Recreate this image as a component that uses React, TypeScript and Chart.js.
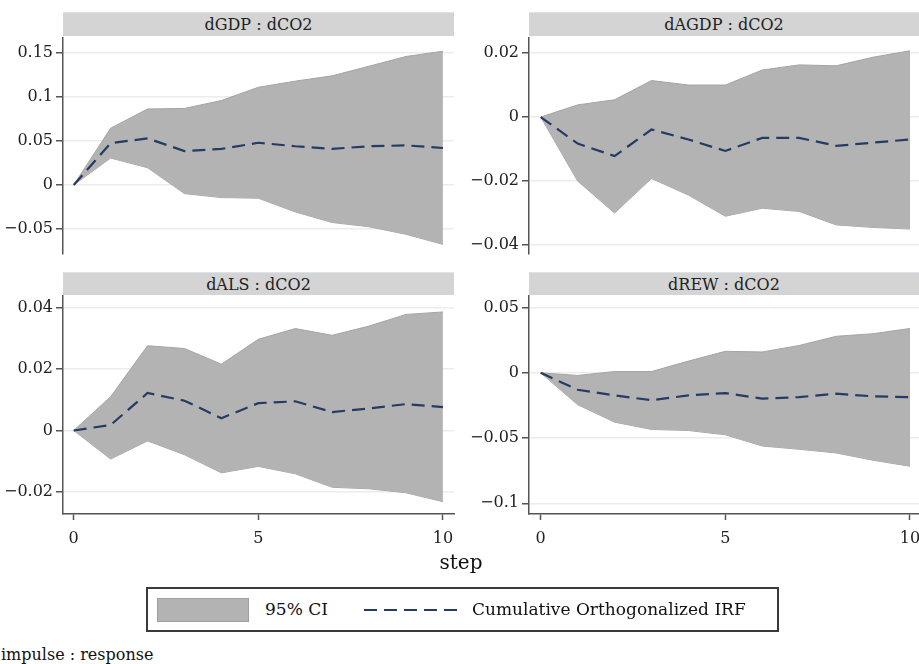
import React, { useEffect, useRef } from 'react';
import { Chart, registerables } from 'chart.js';

Chart.register(...registerables);

const FONT = "'DejaVu Serif', serif";

const steps = [0, 1, 2, 3, 4, 5, 6, 7, 8, 9, 10];
const xTicks = [0, 5, 10];

const gdpHi = [0, 0.0645, 0.0864, 0.087, 0.096, 0.111, 0.118, 0.124, 0.135, 0.146, 0.152];
const gdpLo = [0, 0.0306, 0.0196, -0.0098, -0.0143, -0.015, -0.0306, -0.0426, -0.0475, -0.056, -0.0675];
const gdpIrf = [0, 0.0475, 0.053, 0.0385, 0.041, 0.048, 0.044, 0.041, 0.044, 0.045, 0.042];
const gdpTicks = [-0.05, 0, 0.05, 0.1, 0.15];

const agdpHi = [0, 0.0038, 0.0054, 0.0114, 0.01, 0.01, 0.0147, 0.0163, 0.016, 0.0187, 0.0207];
const agdpLo = [0, -0.02, -0.03, -0.0192, -0.0244, -0.031, -0.0285, -0.0295, -0.0337, -0.0345, -0.035];
const agdpIrf = [0, -0.0083, -0.0122, -0.0039, -0.007, -0.0106, -0.0065, -0.0065, -0.009, -0.008, -0.007];
const agdpTicks = [-0.04, -0.02, 0, 0.02];

const alsHi = [0, 0.011, 0.0276, 0.0267, 0.0216, 0.0297, 0.0332, 0.031, 0.034, 0.0378, 0.0386];
const alsLo = [0, -0.0093, -0.0034, -0.0079, -0.0138, -0.0117, -0.0141, -0.0185, -0.019, -0.0203, -0.0232];
const alsIrf = [0, 0.0018, 0.0122, 0.0097, 0.004, 0.0089, 0.0095, 0.006, 0.0072, 0.0086, 0.0076];
const alsTicks = [-0.02, 0, 0.02, 0.04];

const rewHi = [0, -0.002, 0.001, 0.001, 0.009, 0.0165, 0.016, 0.021, 0.028, 0.03, 0.034];
const rewLo = [0, -0.0244, -0.0378, -0.0434, -0.0442, -0.0475, -0.0561, -0.0586, -0.0614, -0.067, -0.0716];
const rewIrf = [0, -0.013, -0.0173, -0.021, -0.0173, -0.0155, -0.0198, -0.0186, -0.016, -0.018, -0.0186];
const rewTicks = [-0.1, -0.05, 0, 0.05];

const BAND = '#b3b3b3';
const BAND_EDGE = '#a4a4a4';
const IRF_COLOR = '#263b63';
const AXIS = '#555555';
const GRID = '#ececec';

type PanelProps = {
  title: string;
  hi: number[];
  lo: number[];
  irf: number[];
  yTicks: number[];
  yMin: number;
  yMax: number;
  xMin: number;
  xMax: number;
  showX: boolean;
  left: number;
  top: number;
  width: number;
  height: number;
  padRight: number;
  padBottom: number;
  headerTop: number;
  headerHeight: number;
};

function fmt(v: number): string {
  const r = Math.round(v * 10000) / 10000;
  if (r < 0) return '\u2212' + String(Math.abs(r));
  return String(r);
}

function Panel(p: PanelProps) {
  const ref = useRef<HTMLCanvasElement | null>(null);
  useEffect(() => {
    if (!ref.current) return;
    const pts = (arr: number[]) => steps.map((s, i) => ({ x: s, y: arr[i] }));
    const chart = new Chart(ref.current, {
      type: 'line',
      data: {
        datasets: [
          {
            label: 'Cumulative Orthogonalized IRF',
            data: pts(p.irf),
            borderColor: IRF_COLOR,
            borderWidth: 2.2,
            borderDash: [13, 7],
            fill: false,
            pointRadius: 0,
            tension: 0,
          },
          {
            label: '95% CI upper',
            data: pts(p.hi),
            borderColor: BAND_EDGE,
            borderWidth: 1,
            backgroundColor: BAND,
            fill: '+1',
            pointRadius: 0,
            tension: 0,
          },
          {
            label: '95% CI lower',
            data: pts(p.lo),
            borderColor: BAND_EDGE,
            borderWidth: 1,
            backgroundColor: BAND,
            fill: false,
            pointRadius: 0,
            tension: 0,
          },
        ],
      },
      options: {
        animation: false,
        responsive: false,
        maintainAspectRatio: false,
        layout: { padding: { top: 6, right: p.padRight, bottom: p.padBottom, left: 0 } },
        plugins: { legend: { display: false }, tooltip: { enabled: false }, title: { display: false } },
        scales: {
          x: {
            type: 'linear',
            display: p.showX,
            min: p.xMin,
            max: p.xMax,
            afterBuildTicks: (scale: any) => {
              scale.ticks = xTicks.map((v) => ({ value: v }));
            },
            afterFit: (scale: any) => {
              if (p.showX) {
                scale.height = 40;
              }
              scale.paddingLeft = 0;
              scale.paddingRight = 0;
            },
            grid: {
              drawOnChartArea: false,
              drawTicks: true,
              tickLength: 6,
              tickColor: AXIS,
              tickWidth: 1.5,
            },
            border: { display: true, color: AXIS, width: 1.5 },
            ticks: {
              padding: 9,
              color: '#222',
              font: { family: FONT, size: 16 },
              maxRotation: 0,
              callback: (v: any) => String(v),
            },
          },
          y: {
            type: 'linear',
            min: p.yMin,
            max: p.yMax,
            afterBuildTicks: (scale: any) => {
              scale.ticks = p.yTicks.map((v) => ({ value: v }));
            },
            afterFit: (scale: any) => {
              scale.width = 63;
              scale.paddingTop = 0;
              scale.paddingBottom = 0;
            },
            grid: {
              color: GRID,
              lineWidth: 1.5,
              drawTicks: true,
              tickLength: 7,
              tickColor: AXIS,
              tickWidth: 1.5,
            },
            border: { display: true, color: AXIS, width: 1.5 },
            ticks: {
              padding: 3,
              color: '#222',
              font: { family: FONT, size: 16 },
              callback: (v: any) => fmt(Number(v)),
            },
          },
        },
      },
    });
    return () => chart.destroy();
  }, []);

  return (
    <>
      <div
        style={{
          position: 'absolute',
          left: p.left + 63,
          top: p.headerTop,
          width: p.width - 63 - p.padRight,
          height: p.headerHeight,
          background: '#d4d4d4',
          boxSizing: 'border-box',
          borderTop: '1px solid #dbe4ea',
          color: '#222',
          fontFamily: FONT,
          fontSize: 16,
          lineHeight: p.headerHeight + 'px',
          textAlign: 'center',
          whiteSpace: 'nowrap',
        }}
      >
        {p.title}
      </div>
      <canvas
        ref={ref}
        width={p.width}
        height={p.height}
        style={{ position: 'absolute', left: p.left, top: p.top, width: p.width, height: p.height }}
      />
    </>
  );
}

export default function App() {
  useEffect(() => {
    document.body.style.margin = '0';
  }, []);
  return (
    <div style={{ position: 'absolute', left: 0, top: 0, width: 919, height: 664, background: '#fff', overflow: 'hidden' }}>
      <Panel
        title="dGDP : dCO2"
        hi={gdpHi}
        lo={gdpLo}
        irf={gdpIrf}
        yTicks={gdpTicks}
        yMin={-0.0784}
        yMax={0.167}
        xMin={-0.29}
        xMax={10.3}
        showX={false}
        left={0}
        top={32}
        width={460}
        height={230}
        padRight={6}
        padBottom={8}
        headerTop={12}
        headerHeight={24}
      />
      <Panel
        title="dAGDP : dCO2"
        hi={agdpHi}
        lo={agdpLo}
        irf={agdpIrf}
        yTicks={agdpTicks}
        yMin={-0.0428}
        yMax={0.0247}
        xMin={-0.317}
        xMax={10.244}
        showX={false}
        left={466}
        top={32}
        width={453}
        height={230}
        padRight={0}
        padBottom={8}
        headerTop={12}
        headerHeight={24}
      />
      <Panel
        title="dALS : dCO2"
        hi={alsHi}
        lo={alsLo}
        irf={alsIrf}
        yTicks={alsTicks}
        yMin={-0.0272}
        yMax={0.0438}
        xMin={-0.29}
        xMax={10.3}
        showX={true}
        left={0}
        top={290}
        width={460}
        height={274}
        padRight={6}
        padBottom={10}
        headerTop={272}
        headerHeight={23}
      />
      <Panel
        title="dREW : dCO2"
        hi={rewHi}
        lo={rewLo}
        irf={rewIrf}
        yTicks={rewTicks}
        yMin={-0.1082}
        yMax={0.0589}
        xMin={-0.317}
        xMax={10.244}
        showX={true}
        left={466}
        top={290}
        width={453}
        height={274}
        padRight={0}
        padBottom={10}
        headerTop={272}
        headerHeight={23}
      />
      <div
        style={{
          position: 'absolute',
          left: 411,
          width: 100,
          top: 549,
          textAlign: 'center',
          fontFamily: FONT,
          fontSize: 20,
          color: '#111',
          lineHeight: '26px',
        }}
      >
        step
      </div>
      <div
        style={{
          position: 'absolute',
          left: 146,
          top: 587,
          width: 633,
          height: 45,
          boxSizing: 'border-box',
          border: '2px solid #3a3a3a',
          background: '#fff',
        }}
      >
        <div
          style={{
            position: 'absolute',
            left: 9,
            top: 9,
            width: 92,
            height: 24,
            boxSizing: 'border-box',
            background: BAND,
            border: '1.5px solid #a0a0a0',
          }}
        />
        <div
          style={{
            position: 'absolute',
            left: 117,
            top: 0,
            height: 41,
            lineHeight: '41px',
            fontFamily: FONT,
            fontSize: 17,
            color: '#111',
            whiteSpace: 'nowrap',
          }}
        >
          95% CI
        </div>
        <svg style={{ position: 'absolute', left: 216, top: 15, width: 100, height: 12 }} width={100} height={12}>
          <line x1={0} y1={6} x2={97} y2={6} stroke={IRF_COLOR} strokeWidth={2.2} strokeDasharray="13 7" />
        </svg>
        <div
          style={{
            position: 'absolute',
            left: 324,
            top: 0,
            height: 41,
            lineHeight: '41px',
            fontFamily: FONT,
            fontSize: 17,
            color: '#111',
            whiteSpace: 'nowrap',
          }}
        >
          Cumulative Orthogonalized IRF
        </div>
      </div>
      <div
        style={{
          position: 'absolute',
          left: 1,
          top: 645,
          fontFamily: FONT,
          fontSize: 16,
          color: '#111',
          lineHeight: '20px',
          whiteSpace: 'nowrap',
        }}
      >
        impulse : response
      </div>
    </div>
  );
}
